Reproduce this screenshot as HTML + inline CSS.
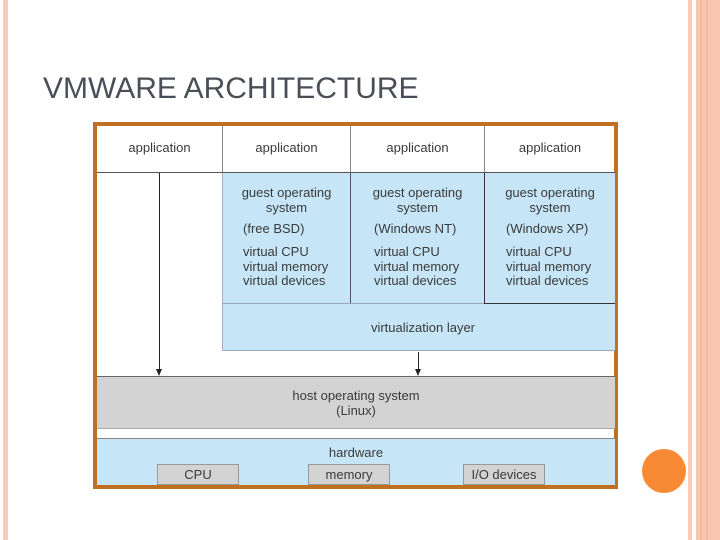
<!DOCTYPE html>
<html><head><meta charset="utf-8"><style>
body{margin:0;width:720px;height:540px;position:relative;background:#fff;overflow:hidden;font-family:"Liberation Sans",sans-serif}
div{position:absolute;box-sizing:border-box}
.t{color:#3a3a3a;font-size:13px;line-height:14.5px}
.c{text-align:center}
</style></head><body>
<div style="left:3px;top:0;width:5px;height:540px;background:#f9cbb8"></div>
<div style="left:688px;top:0;width:4px;height:540px;background:#f9cbb8"></div>
<div style="left:696px;top:0;width:24px;height:540px;background:#f9c6b2"></div>
<div style="left:700px;top:0;width:2px;height:540px;background:#f6b9a2"></div>
<div style="left:706px;top:0;width:2px;height:540px;background:#f6b9a2"></div>
<div style="left:642px;top:449px;width:44px;height:44px;border-radius:50%;background:#f98a35"></div>
<div style="left:43px;top:72px;font-size:30px;color:#4a4f57;white-space:nowrap">VMWARE ARCHITECTURE</div>

<div style="left:93px;top:122px;width:525px;height:367px;border:4px solid #c07020;background:#fff"></div>
<!-- app row -->
<div style="left:97px;top:172px;width:518px;height:1px;background:#555"></div>
<div style="left:222px;top:126px;width:1px;height:46px;background:#888"></div>
<div style="left:350px;top:126px;width:1px;height:46px;background:#888"></div>
<div style="left:484px;top:126px;width:1px;height:46px;background:#888"></div>
<div class="t c" style="left:97px;top:141px;width:125px">application</div>
<div class="t c" style="left:223px;top:141px;width:127px">application</div>
<div class="t c" style="left:351px;top:141px;width:133px">application</div>
<div class="t c" style="left:485px;top:141px;width:130px">application</div>
<!-- guest + virtualization -->
<div style="left:222px;top:173px;width:393px;height:178px;background:#c6e6f7;border-left:1px solid #aac;border-bottom:1px solid #9ab"></div>
<div style="left:222px;top:303px;width:393px;height:1px;background:#9ab"></div>
<div style="left:350px;top:173px;width:1px;height:130px;background:#555"></div>
<div style="left:484px;top:173px;width:1px;height:131px;background:#333"></div>
<div style="left:484px;top:303px;width:131px;height:1px;background:#333"></div>
<div class="t c" style="left:223px;top:186px;width:127px">guest operating<br>system</div>
<div class="t" style="left:243px;top:222px">(free BSD)</div>
<div class="t" style="left:243px;top:245px">virtual CPU<br>virtual memory<br>virtual devices</div>
<div class="t c" style="left:351px;top:186px;width:133px">guest operating<br>system</div>
<div class="t" style="left:374px;top:222px">(Windows NT)</div>
<div class="t" style="left:374px;top:245px">virtual CPU<br>virtual memory<br>virtual devices</div>
<div class="t c" style="left:485px;top:186px;width:130px">guest operating<br>system</div>
<div class="t" style="left:506px;top:222px">(Windows XP)</div>
<div class="t" style="left:506px;top:245px">virtual CPU<br>virtual memory<br>virtual devices</div>
<div class="t c" style="left:223px;top:321px;width:400px">virtualization layer</div>
<!-- arrows -->
<div style="left:159px;top:173px;width:1px;height:197px;background:#222"></div>
<div style="left:156px;top:369px;width:0;height:0;border-left:3.5px solid transparent;border-right:3.5px solid transparent;border-top:7px solid #222"></div>
<div style="left:418px;top:352px;width:1px;height:18px;background:#222"></div>
<div style="left:415px;top:369px;width:0;height:0;border-left:3.5px solid transparent;border-right:3.5px solid transparent;border-top:7px solid #222"></div>
<!-- host -->
<div style="left:97px;top:376px;width:518px;height:53px;background:#d3d3d4;border-top:1px solid #666;border-bottom:1px solid #aaa"></div>
<div class="t c" style="left:97px;top:389px;width:518px">host operating system<br>(Linux)</div>
<!-- hardware -->
<div style="left:97px;top:438px;width:518px;height:47px;background:#c6e6f7;border-top:1px solid #888"></div>
<div class="t c" style="left:97px;top:446px;width:518px">hardware</div>
<div class="t c" style="left:157px;top:464px;width:82px;height:21px;background:#d3d3d4;border:1px solid #999;line-height:19px">CPU</div>
<div class="t c" style="left:308px;top:464px;width:82px;height:21px;background:#d3d3d4;border:1px solid #999;line-height:19px">memory</div>
<div class="t c" style="left:463px;top:464px;width:82px;height:21px;background:#d3d3d4;border:1px solid #999;line-height:19px">I/O devices</div>
</body></html>
